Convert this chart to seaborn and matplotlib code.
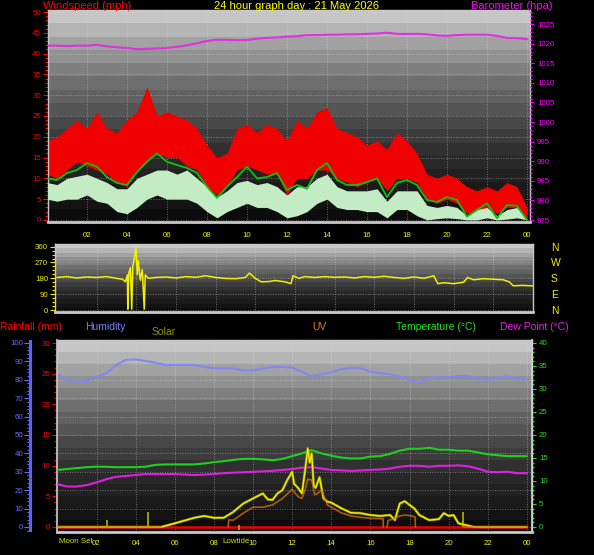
import numpy as np
import matplotlib
matplotlib.use('Agg')
import matplotlib.pyplot as plt
import seaborn as sns
from matplotlib.ticker import MultipleLocator
from matplotlib.colors import LinearSegmentedColormap

sns.set_theme(style='dark')
plt.rcParams['font.family'] = ['Liberation Sans', 'DejaVu Sans']

# --- data (half hour readings) ---
hours = [0, 0.5, 1, 1.5, 2, 2.5, 3, 3.5, 4, 4.5, 5, 5.5, 6, 6.5, 7, 7.5, 8, 8.5,
         9, 9.5, 10, 10.5, 11, 11.5, 12, 12.5, 13, 13.5, 14, 14.5, 15, 15.5, 16,
         16.5, 17, 17.5, 18, 18.5, 19, 19.5, 20, 20.5, 21, 21.5, 22, 22.5, 23, 23.5, 24]

gust_hi = [19, 20, 22, 24, 22, 26, 22, 21, 24, 26, 32, 25, 26, 25, 24, 22, 18, 15, 16, 22,
           23, 21, 23, 22, 19, 24, 22, 26, 27, 22, 21, 20, 18, 19, 17, 21, 19, 16, 11, 10,
           11, 10, 8, 7, 8, 7, 9, 8, 3]
gust_lo = [11, 10, 12, 14, 13, 12, 11, 9, 8, 12, 14, 16, 15, 15, 13, 12, 8, 6, 8, 12,
           13, 12, 11, 11, 6, 10, 10, 12, 12, 10, 9, 8, 9, 10, 7, 10, 10, 9, 5, 4,
           5, 4, 1.5, 2, 3, 1.5, 3, 3, 0]
wind_hi = [9, 8.5, 10, 10.5, 11, 10, 9, 7.5, 7.5, 10, 11, 12, 12, 11, 12, 10, 8, 5.5, 7, 9,
           9.5, 8.5, 9, 8, 6, 8, 8, 10, 11, 8, 7, 7, 7, 7.5, 4.5, 7, 7, 7, 3.5, 3,
           3.5, 3, 1, 2.5, 3, 1, 2.5, 3, 0]
wind_lo = [5, 4.5, 5, 5, 6, 4.5, 4, 2, 1.5, 3, 5, 6, 5, 5, 5, 4, 2, 0.5, 2, 3,
           4, 3, 3, 2, 0.5, 1, 2, 4, 5, 3, 2.5, 2.5, 2, 2, 0.5, 2.5, 2.5, 1, 0, 0.3,
           0.5, 0.3, 0, 0, 0.5, 0, 0.2, 0.5, 0]
wind_avg = [10, 9.6, 11.3, 12, 13.7, 12.8, 10.3, 8.9, 8.4, 11.5, 14, 16, 14, 13.2, 12.5, 11.3, 8, 5.3, 8, 10.3,
            12.8, 10, 10.3, 11.3, 7.2, 8.4, 7.5, 12, 13.7, 9.6, 8.4, 8.4, 9.1, 10, 5.5, 8.9, 9.6, 8.4, 4.8, 4.3,
            5.5, 4.8, 0.8, 2.4, 4, 0.4, 3.6, 3.4, 0]
baro = [1019.5, 1019.5, 1019.4, 1019.5, 1019.5, 1019.7, 1019.3, 1019.1, 1018.9, 1018.6,
        1018.7, 1018.8, 1018.9, 1019.2, 1019.6, 1020.1, 1020.7, 1021.0, 1021.0, 1020.9,
        1020.9, 1021.3, 1021.5, 1021.6, 1021.8, 1021.9, 1022.2, 1022.2, 1022.3, 1022.3,
        1022.4, 1022.4, 1022.5, 1022.6, 1022.8, 1022.5, 1022.5, 1022.5, 1022.4, 1022.1,
        1022.0, 1022.2, 1022.3, 1022.3, 1022.3, 1022.0, 1021.5, 1021.4, 1021.2]

dir_hours = [0, 0.5, 1, 1.5, 2, 2.5, 3, 3.3, 3.45, 3.55, 3.57, 3.62, 3.7, 3.77, 3.82, 3.9, 3.98,
             4.05, 4.1, 4.2, 4.3, 4.4, 4.45, 4.6, 5, 5.5, 6, 6.5, 7, 7.5, 8, 8.5, 9, 9.5,
             9.7, 10, 10.3, 10.7, 11, 11.5, 11.8, 11.9, 12.2, 12.5, 13, 13.5, 14, 14.5, 15, 15.5,
             16, 16.5, 17, 17.5, 18, 18.5, 19, 19.2, 19.5, 20, 20.5, 20.7, 21, 21.5,
             22, 22.5, 22.8, 23, 23.5, 24]
dir_deg = [185, 190, 182, 188, 185, 190, 180, 175, 160, 200, 5, 210, 240, 5, 250, 290, 360,
           200, 280, 170, 230, 5, 200, 180, 185, 188, 182, 190, 186, 195, 185, 180, 178, 185,
           210, 180, 160, 162, 168, 160, 150, 195, 180, 190, 185, 190, 186, 188, 182, 190,
           186, 192, 185, 180, 188, 180, 195, 150, 155, 150, 158, 185, 172, 178,
           175, 172, 160, 138, 140, 137]
compass_deg = [0, 90, 180, 270, 360]
compass_labels = ['N', 'E', 'S', 'W', 'N']

humidity = [83, 80, 79, 79.3, 81.7, 83.5, 88, 90.8, 91, 90.2, 89.3, 88, 88, 88, 88, 87, 86.2, 86.2, 86.2, 85,
            85, 86.2, 87, 87, 86.5, 84.4, 82, 83, 84, 85.7, 86.3, 86.3, 84.4, 83.5, 83, 81.7, 80, 78.5, 81, 81.3,
            81.3, 82, 82, 80.7, 80, 80.7, 82, 80.3, 80.3]
temperature = [12.4, 12.6, 12.8, 13, 13.1, 13.1, 13, 13, 13, 13.1, 13.5, 13.6, 13.6, 13.6, 13.6, 13.8, 14.1, 14.3, 14.6, 14.8,
               14.8, 14.7, 14.5, 14.8, 15.4, 16, 16.7, 16, 15.5, 15.1, 14.9, 14.9, 15.3, 15.4, 15.9, 16.6, 17, 17, 17.2, 16.8,
               16.8, 16.6, 16.6, 16.2, 15.8, 15.6, 15.4, 15.4, 15.4]
dew_point = [9.3, 8.8, 8.8, 9.1, 9.7, 10.4, 10.9, 11.1, 11.3, 11.5, 11.5, 11.5, 11.5, 11.4, 11.3, 11.4, 11.5, 11.7, 11.8, 11.9,
             12, 12.1, 12.2, 12.4, 12.6, 12.9, 13, 12.7, 12.4, 12.3, 12.2, 12.3, 12.4, 12.5, 12.7, 13.1, 13.3, 13.3, 13.1, 13.3,
             13.3, 13.4, 13.2, 12.7, 12, 11.9, 12, 11.7, 11.7]
rain_hours = [0, 24]
rain_mm = [0, 0]

solar_hours = [0, 5.3, 6, 6.5, 7, 7.5, 8, 8.5, 9, 9.5, 10, 10.5, 10.75, 11, 11.25, 11.5, 11.75, 12, 12.1, 12.3,
               12.5, 12.65, 12.8, 12.9, 13, 13.1, 13.2, 13.4, 13.6, 13.8, 14, 14.5, 15, 15.5, 16, 16.5, 17, 17.25,
               17.5, 17.75, 18, 18.25, 18.5, 19, 19.5, 19.75, 20, 20.25, 20.5, 21, 21.3, 24]
solar = [0, 0, 0.8, 1.4, 2, 2.4, 2, 2, 3.3, 5.1, 6.2, 7.3, 6, 5.9, 7.3, 8, 10.2, 12, 9.4, 8.5,
         7.3, 12, 17.1, 14, 16, 9, 8.5, 10.8, 6.2, 5.5, 5.3, 4.1, 3.1, 3, 2.6, 2.4, 2.6, 1.5,
         5.1, 5.6, 4.8, 4, 2.6, 1.5, 1.7, 3, 2.4, 2.6, 0.8, 0.3, 0, 0]
uv_hours = [0, 5.3, np.nan, 8.73, 8.75, 9, 9.5, 10, 10.5, 11, 11.5, 12, 12.3, 12.5, 12.65, 12.8, 13, 13.15,
            13.3, 13.5, 13.8, 14, 14.5, 15, 15.5, 16, 16.5, 16.65, 16.66, np.nan,
            16.85, 16.9, 17.2, 17.5, 17.8, 18.1, 18.28, 18.3, np.nan, 20.8, 24]
uv = [0, 0, np.nan, 0, 1.5, 1.5, 3, 4.3, 4.3, 4.8, 6.2, 8.2, 6.6, 6.2, 8, 10.4, 10.2, 7,
      7.3, 8, 4.8, 4.3, 3.1, 2.4, 2.1, 1.9, 1.8, 1.8, 0, np.nan,
      0, 1.4, 1.8, 2.4, 2.6, 2.4, 2.2, 0, np.nan, 0, 0]

event_hours = [2.55, 4.65, 9.3, 20.75]
event_bottoms = [0, 0, -0.6, 0]
event_tops = [1.6, 3.3, 0.4, 3.3]
event_names = ['Moon Set', 'Lowtide']
event_label_hours = [0.94, 9.15]

hour_ticks = [2, 4, 6, 8, 10, 12, 14, 16, 18, 20, 22, 24]
hour_labels = ['02', '04', '06', '08', '10', '12', '14', '16', '18', '20', '22', '00']

# --- figure layout in pixels ---
W, H = 594, 555
fig = plt.figure(figsize=(W / 100, H / 100), dpi=100, facecolor='black')


def px_axes(left, top, right, bottom):
    return fig.add_axes([left / W, 1 - bottom / H, (right - left) / W, (bottom - top) / H])


bg_cmap = LinearSegmentedColormap.from_list('bg', ['#0c0c0c', '#303030', '#6e6e6e', '#c6c6c6'])


def paint_background(ax, steps=16):
    levels = np.linspace(0, 1, steps).reshape(-1, 1)
    x0, x1 = ax.get_xlim()
    y0, y1 = ax.get_ylim()
    ax.imshow(levels, origin='lower', extent=[x0, x1, y0, y1], aspect='auto',
              cmap=bg_cmap, interpolation='nearest', zorder=0)
    ax.set_xlim(x0, x1)
    ax.set_ylim(y0, y1)


def frame(ax, color='#c8c8c8'):
    for side in ['top', 'bottom', 'left', 'right']:
        ax.spines[side].set_color(color)
        ax.spines[side].set_linewidth(1.0)
    ax.spines['bottom'].set_linewidth(2.0)


def hide_spines(ax):
    for side in ['top', 'bottom', 'left', 'right']:
        ax.spines[side].set_visible(False)


grid_kw = dict(color='#d8d8d8', linestyle=(0, (1, 2)), linewidth=0.6, alpha=0.6)
TICK = 5.7

# ---------------- wind / barometer ----------------
ax_w = px_axes(48, 10, 530, 222)
ax_w.set_xlim(0.05, 24.15)
ax_w.set_ylim(-0.5, 50.5)
paint_background(ax_w)
ax_w.fill_between(hours, gust_lo, gust_hi, color='#f00000', lw=0, zorder=2)
ax_w.fill_between(hours, wind_lo, wind_hi, color='#c4ecc4', lw=0, zorder=3)
sns.lineplot(x=hours, y=wind_avg, ax=ax_w, color='#10c010', lw=1.3, zorder=4,
             estimator=None, sort=False, legend=False)
ax_w.yaxis.set_major_locator(MultipleLocator(5))
ax_w.yaxis.set_minor_locator(MultipleLocator(1))
ax_w.tick_params(axis='y', which='both', colors='#ff0000', labelsize=TICK, left=True, pad=1.5)
ax_w.tick_params(axis='y', which='major', length=3.5, width=0.8)
ax_w.tick_params(axis='y', which='minor', length=2, width=0.8)
ax_w.set_xticks(hour_ticks, hour_labels)
ax_w.tick_params(axis='x', colors='#f0f000', labelsize=TICK, length=0, pad=7)
ax_w.grid(True, **grid_kw)
ax_w.set_xlabel('')
ax_w.set_ylabel('')
frame(ax_w)

ax_p = ax_w.twinx()
ax_p.patch.set_visible(False)
ax_p.set_ylim(974.5, 1028.6)
sns.lineplot(x=hours, y=baro, ax=ax_p, color='#e030e0', lw=1.5,
             estimator=None, sort=False, legend=False)
ax_p.yaxis.set_major_locator(MultipleLocator(5))
ax_p.yaxis.set_minor_locator(MultipleLocator(1))
ax_p.tick_params(axis='y', which='both', colors='#ff00ff', labelsize=TICK, right=True, pad=2)
ax_p.tick_params(axis='y', which='major', length=3, width=0.8)
ax_p.tick_params(axis='y', which='minor', length=1.5, width=1.0)
ax_p.set_ylabel('')
hide_spines(ax_p)

# ---------------- wind direction ----------------
ax_d = px_axes(55, 244, 533, 312)
ax_d.set_xlim(-0.1, 24)
ax_d.set_ylim(-11, 375)
paint_background(ax_d)
sns.lineplot(x=dir_hours, y=dir_deg, ax=ax_d, color='#f0f000', lw=1.1, zorder=3,
             estimator=None, sort=False, legend=False)
ax_d.set_yticks(compass_deg)
ax_d.yaxis.set_minor_locator(MultipleLocator(22.5))
ax_d.tick_params(axis='y', which='both', colors='#f0f000', labelsize=TICK, left=True, pad=1.5)
ax_d.tick_params(axis='y', which='major', length=3.5, width=0.8)
ax_d.tick_params(axis='y', which='minor', length=2, width=0.8)
ax_d.set_xticks(hour_ticks, [])
ax_d.tick_params(axis='x', length=0)
ax_d.grid(True, **grid_kw)
frame(ax_d)

ax_c = ax_d.twinx()
ax_c.patch.set_visible(False)
ax_c.set_ylim(ax_d.get_ylim())
ax_c.set_yticks(compass_deg, compass_labels)
ax_c.tick_params(axis='y', colors='#f0f000', labelsize=7.5, length=0, pad=13)
hide_spines(ax_c)

# ---------------- rain / humidity / temperature ----------------
ax_b = px_axes(57, 340, 532, 532)
ax_b.set_xlim(-0.02, 24.26)
ax_b.set_ylim(-2.72, 101.6)
paint_background(ax_b)
sns.lineplot(x=hours, y=humidity, ax=ax_b, color='#8585f5', lw=1.5, zorder=3,
             estimator=None, sort=False, legend=False)
ax_b.yaxis.set_major_locator(MultipleLocator(10))
ax_b.yaxis.set_minor_locator(MultipleLocator(2))
ax_b.tick_params(axis='y', which='both', colors='#6a6aff', labelsize=TICK, left=True, pad=1)
ax_b.tick_params(axis='y', which='major', length=4, width=0.8)
ax_b.tick_params(axis='y', which='minor', length=2, width=0.8)
ax_b.set_xticks(hour_ticks, hour_labels)
ax_b.tick_params(axis='x', colors='#f0f000', labelsize=TICK, length=0, pad=5.8)
ax_b.grid(True, **grid_kw)
frame(ax_b)
ax_b.spines['left'].set_position(('outward', 19.4))
ax_b.spines['left'].set_color('#6060ff')
ax_b.spines['left'].set_linewidth(2.2)
ax_b.spines['left'].set_bounds(-1.5, 101)

ax_r = ax_b.twinx()
ax_r.patch.set_visible(False)
ax_r.set_ylim(-0.82, 30.49)
sns.lineplot(x=rain_hours, y=rain_mm, ax=ax_r, color='#f00000', lw=1.8,
             estimator=None, sort=False, legend=False)
ax_r.yaxis.tick_left()
ax_r.yaxis.set_major_locator(MultipleLocator(5))
ax_r.yaxis.set_minor_locator(MultipleLocator(1))
ax_r.tick_params(axis='y', which='both', colors='#ff0000', labelsize=TICK, left=True, right=False, pad=1.5)
ax_r.tick_params(axis='y', which='major', length=3.5, width=0.8)
ax_r.tick_params(axis='y', which='minor', length=2, width=0.8)
ax_r.set_ylabel('')
hide_spines(ax_r)
ax_r.spines['left'].set_visible(True)
ax_r.spines['left'].set_color('#c8c8c8')

ax_t = ax_b.twinx()
ax_t.patch.set_visible(False)
ax_t.set_ylim(-1.09, 40.65)
sns.lineplot(x=hours, y=temperature, ax=ax_t, color='#20d020', lw=1.5,
             estimator=None, sort=False, legend=False)
sns.lineplot(x=hours, y=dew_point, ax=ax_t, color='#e020e0', lw=1.5,
             estimator=None, sort=False, legend=False)
ax_t.vlines(event_hours, event_bottoms, event_tops, color='#b4b400', lw=1.2)
sns.lineplot(x=solar_hours, y=solar, ax=ax_t, color='#9a9a00', lw=1.8,
             estimator=None, sort=False, legend=False)
sns.lineplot(x=solar_hours, y=solar, ax=ax_t, color='#f4f000', lw=0.9,
             estimator=None, sort=False, legend=False)
ax_t.plot(uv_hours, uv, color='#e07010', lw=1.2, alpha=0.75)
ax_t.yaxis.set_major_locator(MultipleLocator(5))
ax_t.yaxis.set_minor_locator(MultipleLocator(1))
ax_t.tick_params(axis='y', which='both', colors='#20e020', labelsize=TICK, right=True, pad=2)
ax_t.tick_params(axis='y', which='major', length=3, width=0.8)
ax_t.tick_params(axis='y', which='minor', length=1.5, width=1.0)
ax_t.set_ylabel('')
hide_spines(ax_t)
ax_t.spines['right'].set_visible(True)
ax_t.spines['right'].set_color('#d0d0d0')

for name, h in zip(event_names, event_label_hours):
    ax_b.text(h, -0.052, name, transform=ax_b.get_xaxis_transform(), color='#c8e800',
              fontsize=TICK, ha='center', va='center')

# ---------------- titles and legend texts ----------------
def label(x, y, s, color, size=8, ha='left'):
    fig.text(x / W, 1 - y / H, s, color=color, fontsize=size, ha=ha, va='center')


label(43, 6, 'Windspeed (mph)', '#ff0000')
label(297, 6, '24 hour graph day : 21 May 2026', '#ffff00', ha='center')
label(471, 6, 'Barometer (hpa)', '#ff00ff')
label(0, 327, 'Rainfall (mm)', '#ff0000', 7.5)
label(85, 327, 'Humidity', '#8080ff', 7.5)
label(152, 332, 'Solar', '#909000', 7.5)
label(312, 327, 'UV', '#e07818', 7.5)
label(396, 327, 'Temperature (°C)', '#20e020', 7.5)
label(500, 327, 'Dew Point (°C)', '#e020e0', 7.5)

fig.savefig('out.png', dpi=100, facecolor='black')
